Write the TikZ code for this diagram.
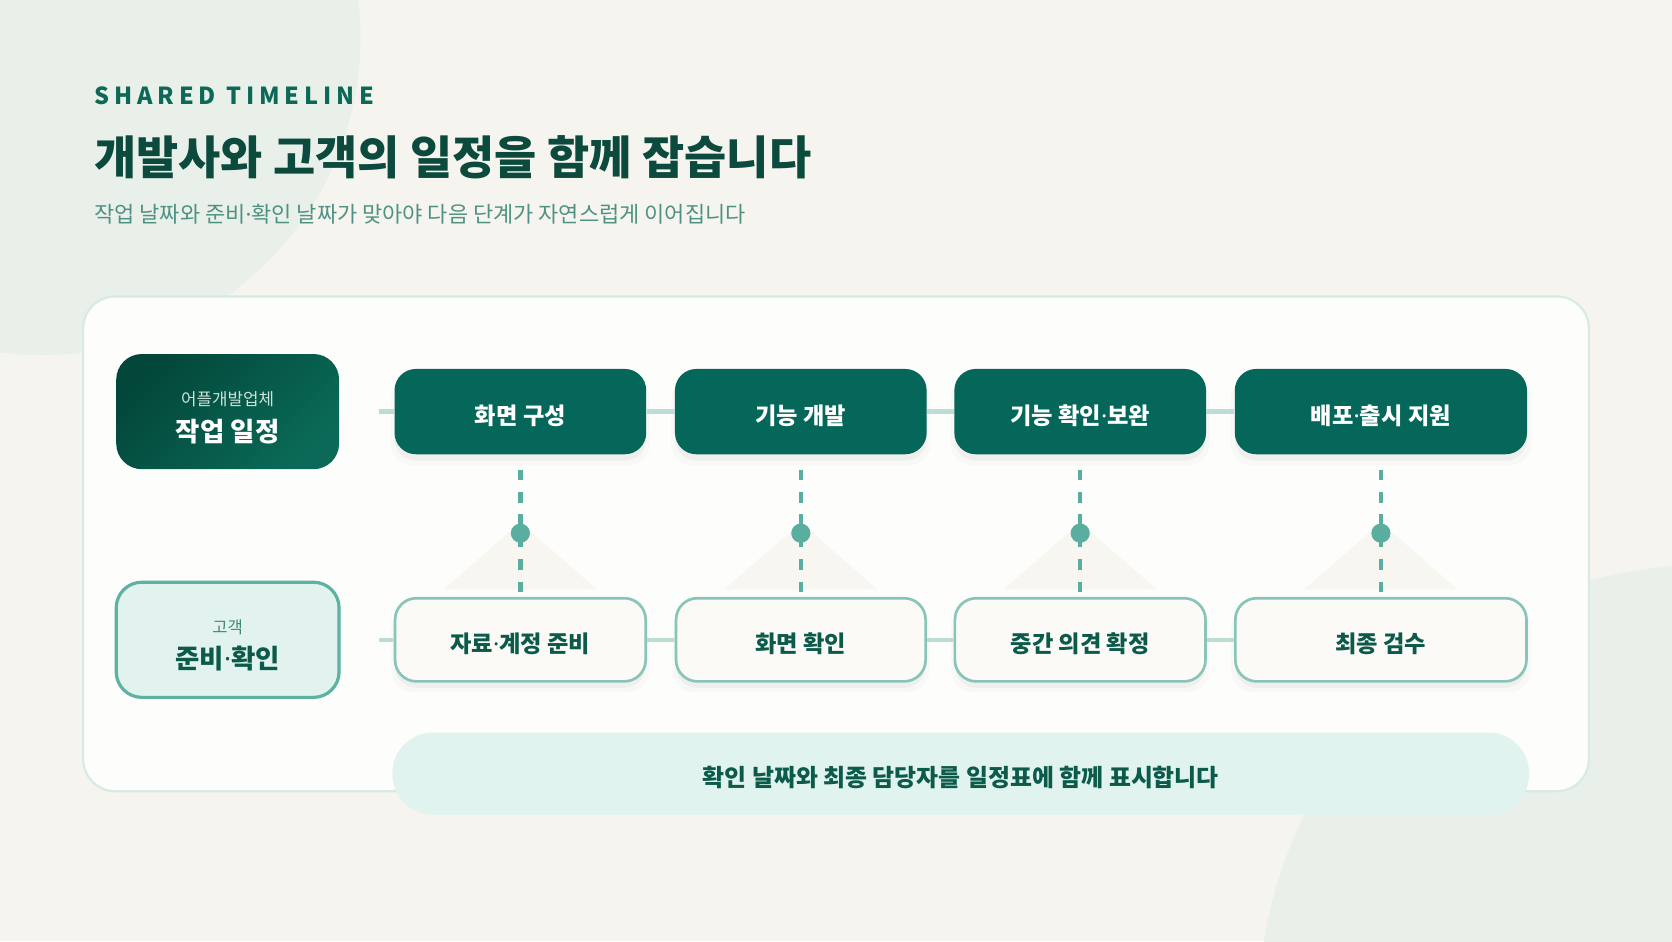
\documentclass[tikz,border=0pt]{standalone}
\usepackage{fontspec}
\setmainfont{Noto Sans CJK KR}
\newfontfamily\latinr{Noto Sans}
\newcommand\md{{\latinr\mdseries ·}}
\usetikzlibrary{shadows}
\definecolor{bg}{HTML}{F6F4EE}
\definecolor{blob}{HTML}{E9F0EA}
\definecolor{panel}{HTML}{FDFDFB}
\definecolor{panelborder}{HTML}{D7EAE3}
\definecolor{darkteal}{HTML}{04675A}
\definecolor{titlec}{HTML}{0B4A3C}
\definecolor{kicker}{HTML}{0E6857}
\definecolor{subc}{HTML}{4F9283}
\definecolor{rowline}{HTML}{BCDDD5}
\definecolor{dashc}{HTML}{5AAE9F}
\definecolor{lightbox}{HTML}{FBFAF7}
\definecolor{lightborder}{HTML}{88C5B8}
\definecolor{notec}{HTML}{E0F3EF}
\definecolor{custfill}{HTML}{E2F3EF}
\definecolor{custborder}{HTML}{5DB2A2}
\definecolor{darktext}{HTML}{0B5A4A}
\definecolor{tric}{HTML}{F7F6F1}
\definecolor{gradA}{HTML}{03473A}
\definecolor{gradB}{HTML}{0A6A57}
\definecolor{smallw}{HTML}{CBE3DA}
\definecolor{smallg}{HTML}{3D8B7B}
\begin{document}
\begin{tikzpicture}[x=0.5pt,y=-0.5pt,
  softshadow/.style={general shadow={fill=black, opacity=0.035, shadow yshift=-3pt},
    general shadow={fill=black, opacity=0.02, shadow yshift=-4.5pt, shadow scale=1.03}},
  kr/.style={text height=0.85em, text depth=0.1em},
  krlow/.style={text height=11.8pt, text depth=0pt},
  topbox/.style={rounded corners=10pt, fill=darkteal, minimum height=40pt, text=white,
    font=\fontsize{10.9}{13}\selectfont\bfseries, inner sep=0pt, krlow, softshadow},
  botbox/.style={rounded corners=10pt, fill=lightbox, draw=lightborder, line width=1.25pt,
    minimum height=39pt, text=darktext, font=\fontsize{10.9}{13}\selectfont\bfseries, inner sep=0pt, krlow, softshadow},
  rowl/.style={draw=rowline, line width=2pt},
  dashl/.style={draw=dashc, line width=2pt, dash pattern=on 5pt off 5.5pt},
  dotn/.style={circle, fill=dashc, minimum size=9pt, inner sep=0pt},
  txt/.style={inner sep=0pt},
  ctxt/.style={inner sep=0pt, kr},
  btxt/.style={inner sep=0pt, text height=12pt, text depth=0pt}
]
\useasboundingbox (0,0) rectangle (1568,882.5);
\fill[bg] (0,0) rectangle (1568,882.5);
\begin{scope}
\clip (0,0) rectangle (1568,882.5);
\fill[blob] (40,35) circle [radius=298];
\fill[blob] (1600,950) circle [radius=420];
\end{scope}
\node[rounded corners=15pt, fill=panel, draw=panelborder, line width=1pt,
  minimum width=706pt, minimum height=232pt, inner sep=0pt] (panel) at (784,510) {};
\foreach \cx in {488,751,1013,1295}{
  \fill[tric] (\cx,490) -- (\cx-72,553) -- (\cx+72,553) -- cycle;
}

% headings
\node[txt, anchor=base west, text=kicker, font=\fontsize{11}{13}\selectfont\bfseries\addfontfeature{LetterSpace=21}] (kick) at (88,98) {SHARED TIMELINE};
\node[txt, anchor=base west, text=titlec, font=\fontsize{21.5}{25}\selectfont\bfseries] (title) at (88,164) {개발사와 고객의 일정을 함께 잡습니다};
\node[txt, anchor=base west, text=subc, font=\fontsize{10.3}{12}\selectfont] (sub) at (88,209) {작업 날짜와 준비\md 확인 날짜가 맞아야 다음 단계가 자연스럽게 이어집니다};

% left labels
\node[rounded corners=12pt, minimum width=104.5pt, minimum height=54pt, inner sep=0pt,
  left color=gradA, right color=gradB, shading angle=45] (dev) at (213.5,386) {};
\node[ctxt, text=smallw, font=\fontsize{7.9}{9}\selectfont] (devs) at (213.5,373) {어플개발업체};
\node[btxt, text=white, font=\fontsize{12.4}{14}\selectfont\bfseries] (devb) at (213.5,402) {작업 일정};

\node[rounded corners=12pt, minimum width=104.5pt, minimum height=54pt, inner sep=0pt,
  fill=custfill, draw=custborder, line width=1.5pt] (cus) at (213.5,600) {};
\node[ctxt, text=smallg, font=\fontsize{7.8}{9}\selectfont] (cuss) at (213.5,587) {고객};
\node[btxt, text=darktext, font=\fontsize{12.4}{14}\selectfont\bfseries] (cusb) at (213.5,615) {준비\md 확인};

% top row
\node[topbox, minimum width=118pt] (t1) at (488,386) {화면 구성};
\node[topbox, minimum width=118pt] (t2) at (751,386) {기능 개발};
\node[topbox, minimum width=118pt] (t3) at (1013,386) {기능 확인\md 보완};
\node[topbox, minimum width=137pt] (t4) at (1295,386) {배포\md 출시 지원};

% bottom row
\node[botbox, minimum width=117.5pt] (b1) at (488,600) {자료\md 계정 준비};
\node[botbox, minimum width=117pt] (b2) at (751,600) {화면 확인};
\node[botbox, minimum width=117.5pt] (b3) at (1013,600) {중간 의견 확정};
\node[botbox, minimum width=136.5pt] (b4) at (1295,600) {최종 검수};

\coordinate (ts) at (355,386);
\coordinate (bs) at (355,600);

\draw[rowl] (ts) -- (t1.west);
\draw[rowl] (t1.east) -- (t2.west);
\draw[rowl] (t2.east) -- (t3.west);
\draw[rowl] (t3.east) -- (t4.west);
\draw[rowl] (bs) -- (b1.west);
\draw[rowl] (b1.east) -- (b2.west);
\draw[rowl] (b2.east) -- (b3.west);
\draw[rowl] (b3.east) -- (b4.west);
\foreach \i in {1,2,3,4}{
  \draw[dashl] ([yshift=-7pt]t\i.south) -- (b\i.north);
}

\node[dotn] (d1) at (488,500) {};
\node[dotn] (d2) at (751,500) {};
\node[dotn] (d3) at (1013,500) {};
\node[dotn] (d4) at (1295,500) {};

% note
\node[rounded corners=19pt, fill=notec, minimum width=533pt, minimum height=38.5pt, inner sep=0pt,
  text height=12pt, text depth=0pt,
  text=darktext, font=\fontsize{11.2}{13}\selectfont\bfseries] (note) at (901,725.5) {확인 날짜와 최종 담당자를 일정표에 함께 표시합니다};
\end{tikzpicture}
\end{document}
